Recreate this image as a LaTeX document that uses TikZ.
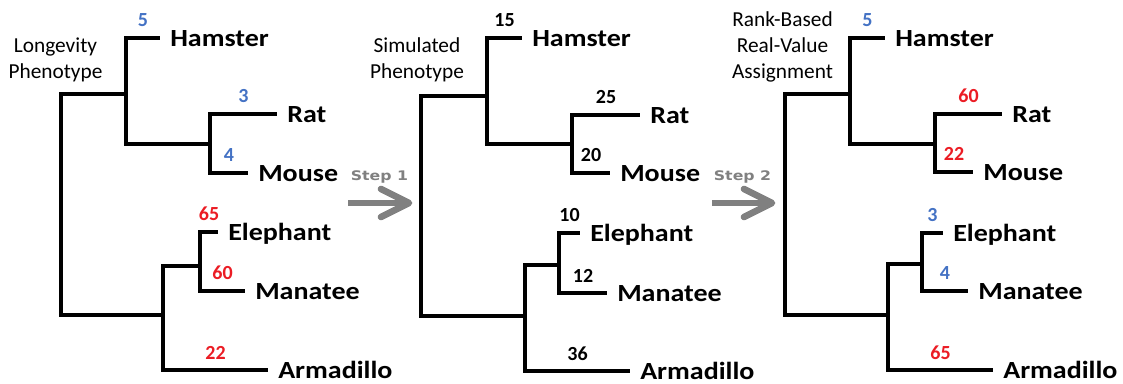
\documentclass[tikz,border=0pt]{standalone}
\usepackage{fontspec}
\setmainfont{Carlito}
\newfontfamily\stepfont{DejaVu Sans}
\usetikzlibrary{calc}
\definecolor{blu}{RGB}{68,114,196}
\definecolor{rd}{RGB}{235,28,36}
\definecolor{gry}{RGB}{128,128,128}
\newcommand{\nm}[1]{\scalebox{1}[0.88]{#1}}
\begin{document}
\begin{tikzpicture}[x=0.75pt,y=-0.75pt,
  br/.style={line width=3.5pt, line join=miter},
  leaf/.style={font=\fontsize{21}{21}\selectfont\bfseries, inner sep=0pt, anchor=base west},
  num/.style={font=\fontsize{15}{15}\selectfont\bfseries, inner sep=0pt, anchor=base},
  ttl/.style={font=\fontsize{16}{19.5}\selectfont, align=center, inner sep=0pt, anchor=base},
  steplbl/.style={font=\stepfont\bfseries\fontsize{11.8}{13}\selectfont, text=gry, inner sep=0pt, anchor=base},
  stepshaft/.style={gry, line width=5pt},
  stephead/.style={gry, line width=5pt, line cap=round, line join=round}]
\useasboundingbox (0,0) rectangle (1123,384);
% tree 1
\coordinate (R1) at (61,200);  \coordinate (U1) at (126,94);  \coordinate (L1) at (163,315);
\coordinate (H1) at (160,38);  \coordinate (RM1) at (210,144); \coordinate (Ra1) at (277,114);
\coordinate (Mo1) at (248,173); \coordinate (EM1) at (200,266); \coordinate (El1) at (218,232);
\coordinate (Ma1) at (245,291); \coordinate (Ar1) at (268,370);
% tree 2
\coordinate (R2) at (421,200);  \coordinate (U2) at (487,96);  \coordinate (L2) at (525,316);
\coordinate (H2) at (522,38);  \coordinate (RM2) at (572,144); \coordinate (Ra2) at (640,115);
\coordinate (Mo2) at (610,173); \coordinate (EM2) at (559,265); \coordinate (El2) at (580,233);
\coordinate (Ma2) at (607,293); \coordinate (Ar2) at (630,371);
% tree 3
\coordinate (R3) at (785,200);  \coordinate (U3) at (850,94);  \coordinate (L3) at (888,315);
\coordinate (H3) at (885,38);  \coordinate (RM3) at (935,144); \coordinate (Ra3) at (1002,114);
\coordinate (Mo3) at (973,172); \coordinate (EM3) at (922,264); \coordinate (El3) at (943,233);
\coordinate (Ma3) at (968,291); \coordinate (Ar3) at (993,370);

\foreach \t in {1,2,3}{
  \draw[br] (R\t) |- (U\t) (R\t) |- (L\t) (U\t) |- (H\t) (U\t) |- (RM\t)
            (RM\t) |- (Ra\t) (RM\t) |- (Mo\t) (L\t) |- (EM\t) (L\t) |- (Ar\t)
            (EM\t) |- (El\t) (EM\t) |- (Ma\t);
  \node[leaf] (ham\t) at ($(H\t)+(10,8.5)$) {\nm{Hamster}};
  \node[leaf] (rat\t) at ($(Ra\t)+(10,8.5)$) {\nm{Rat}};
  \node[leaf] (mou\t) at ($(Mo\t)+(10,8.5)$) {\nm{Mouse}};
  \node[leaf] (ele\t) at ($(El\t)+(10,8.5)$) {\nm{Elephant}};
  \node[leaf] (man\t) at ($(Ma\t)+(10,8.5)$) {\nm{Manatee}};
  \node[leaf] (arm\t) at ($(Ar\t)+(10,8.5)$) {\nm{Armadillo}};
}

\foreach \t/\lf/\p/\v/\c in {
  1/H/U/5/blu, 1/Ra/RM/3/blu, 1/Mo/RM/4/blu, 1/El/EM/65/rd, 1/Ma/EM/60/rd, 1/Ar/L/22/rd,
  2/H/U/15/black, 2/Ra/RM/25/black, 2/Mo/RM/20/black, 2/El/EM/10/black, 2/Ma/EM/12/black, 2/Ar/L/36/black,
  3/H/U/5/blu, 3/Ra/RM/60/rd, 3/Mo/RM/22/rd, 3/El/EM/3/blu, 3/Ma/EM/4/blu, 3/Ar/L/65/rd}{
  \node[num, text=\c] (n\lf\t) at ($(\p\t|-\lf\t)!0.5!(\lf\t)+(0,-11)$) {\v};
}

% titles (base anchor = baseline of last line)
\node[ttl] (title1) at (55.5,79) {Longevity\\Phenotype};
\node[ttl] (title2) at (417,79) {Simulated\\Phenotype};
\node[ttl] (title3) at (782.5,79) {Rank-Based\\Real-Value\\Assignment};

% step arrows
\coordinate (s1a) at (348,203); \coordinate (s1b) at (409,203);
\coordinate (s2a) at (712,203); \coordinate (s2b) at (772,203);
\node[steplbl] (s1t) at (379.5,181) {\scalebox{1}[0.84]{Step 1}};
\node[steplbl] (s2t) at (742.5,181) {\scalebox{1}[0.84]{Step 2}};
\draw[stepshaft] (s1a) -- ($(s1b)+(-3,0)$);
\draw[stephead] ($(s1b)+(-28,-14)$) -- (s1b) -- ($(s1b)+(-28,14)$);
\draw[stepshaft] (s2a) -- ($(s2b)+(-3,0)$);
\draw[stephead] ($(s2b)+(-28,-14)$) -- (s2b) -- ($(s2b)+(-28,14)$);
\end{tikzpicture}
\end{document}
